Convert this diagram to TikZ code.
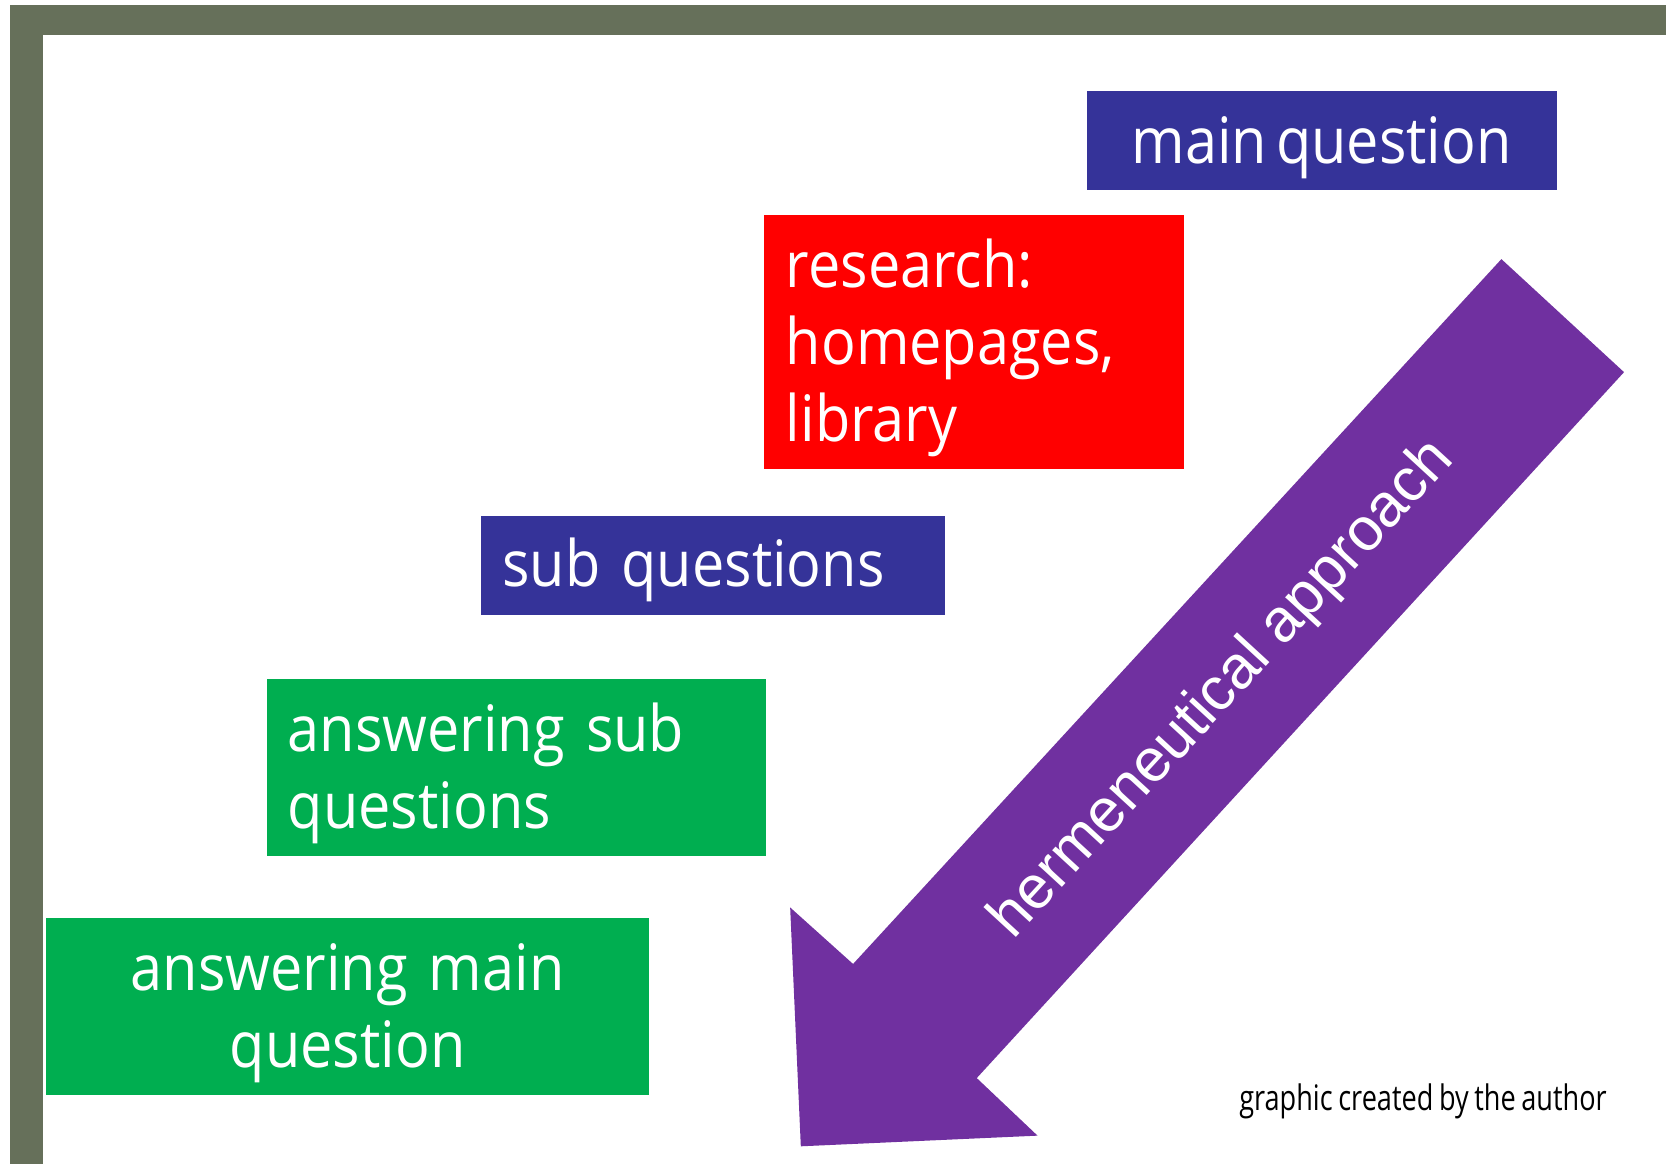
\documentclass[tikz,border=0pt]{standalone}
\usepackage{fontspec}
\setmainfont{Open Sans}[FakeStretch=0.9, WordSpace=0.6]
\newfontfamily\creditfont{Open Sans}[FakeStretch=0.77, WordSpace=0.8]
\newfontfamily\arrowfont{Liberation Sans}
\definecolor{framecol}{RGB}{102,112,90}
\definecolor{qblue}{RGB}{53,51,153}
\definecolor{rred}{RGB}{255,0,0}
\definecolor{agreen}{RGB}{0,174,80}
\definecolor{apurple}{RGB}{112,48,160}
\tikzset{
  boxfill/.style={rectangle, inner sep=0pt},
  boxtext/.style={text=white, inner sep=0pt, font=\fontsize{60}{72}\selectfont},
}
\begin{document}
\begin{tikzpicture}[x=1pt,y=-1pt]
\useasboundingbox (0,0) rectangle (1568,1092);
% frame
\fill[framecol] (9,5) rectangle (1562,33);
\fill[framecol] (9,5) rectangle (40,1092);
% boxes
\node[boxfill, fill=qblue, minimum width=441pt, minimum height=93pt,
  label={[boxtext, name=mqt, yshift=-7pt]center:main question}] (mq) at (1239.5,131.5) {};
\node[boxfill, fill=rred, minimum width=394pt, minimum height=238pt,
  label={[boxtext, name=rest, yshift=-5pt, text width=352pt, align=left]center:{research:\\homepages,\\library}}] (res) at (913,321) {};
\node[boxfill, fill=qblue, minimum width=435pt, minimum height=93pt,
  label={[boxtext, name=sqt, yshift=-4pt, text width=395pt, align=left]center:sub questions}] (sq) at (668.5,530.5) {};
\node[boxfill, fill=agreen, minimum width=468pt, minimum height=166pt,
  label={[boxtext, name=asqt, yshift=-5pt, text width=428pt, align=left]center:{answering sub\\questions}}] (asq) at (484,720) {};
\node[boxfill, fill=agreen, minimum width=566pt, minimum height=166pt,
  label={[boxtext, name=amqt, yshift=-6pt, text width=526pt, align=center]center:{answering main\\question}}] (amq) at (326,944) {};
% arrow
\fill[apurple] (1408,243) -- (1523,349) -- (916,1011) -- (973,1065) -- (751,1075) -- (741,851) -- (800,904) -- cycle;
\node[text=white, rotate=47.4, font=\arrowfont\fontsize{57}{66}\selectfont, inner sep=0pt] (herm) at (1147,647) {hermeneutical approach};
% credit
\node[anchor=base west, inner sep=0pt, font=\creditfont\fontsize{33}{38}\selectfont] (credit) at (1162,1041) {graphic created by the author};
\end{tikzpicture}
\end{document}
